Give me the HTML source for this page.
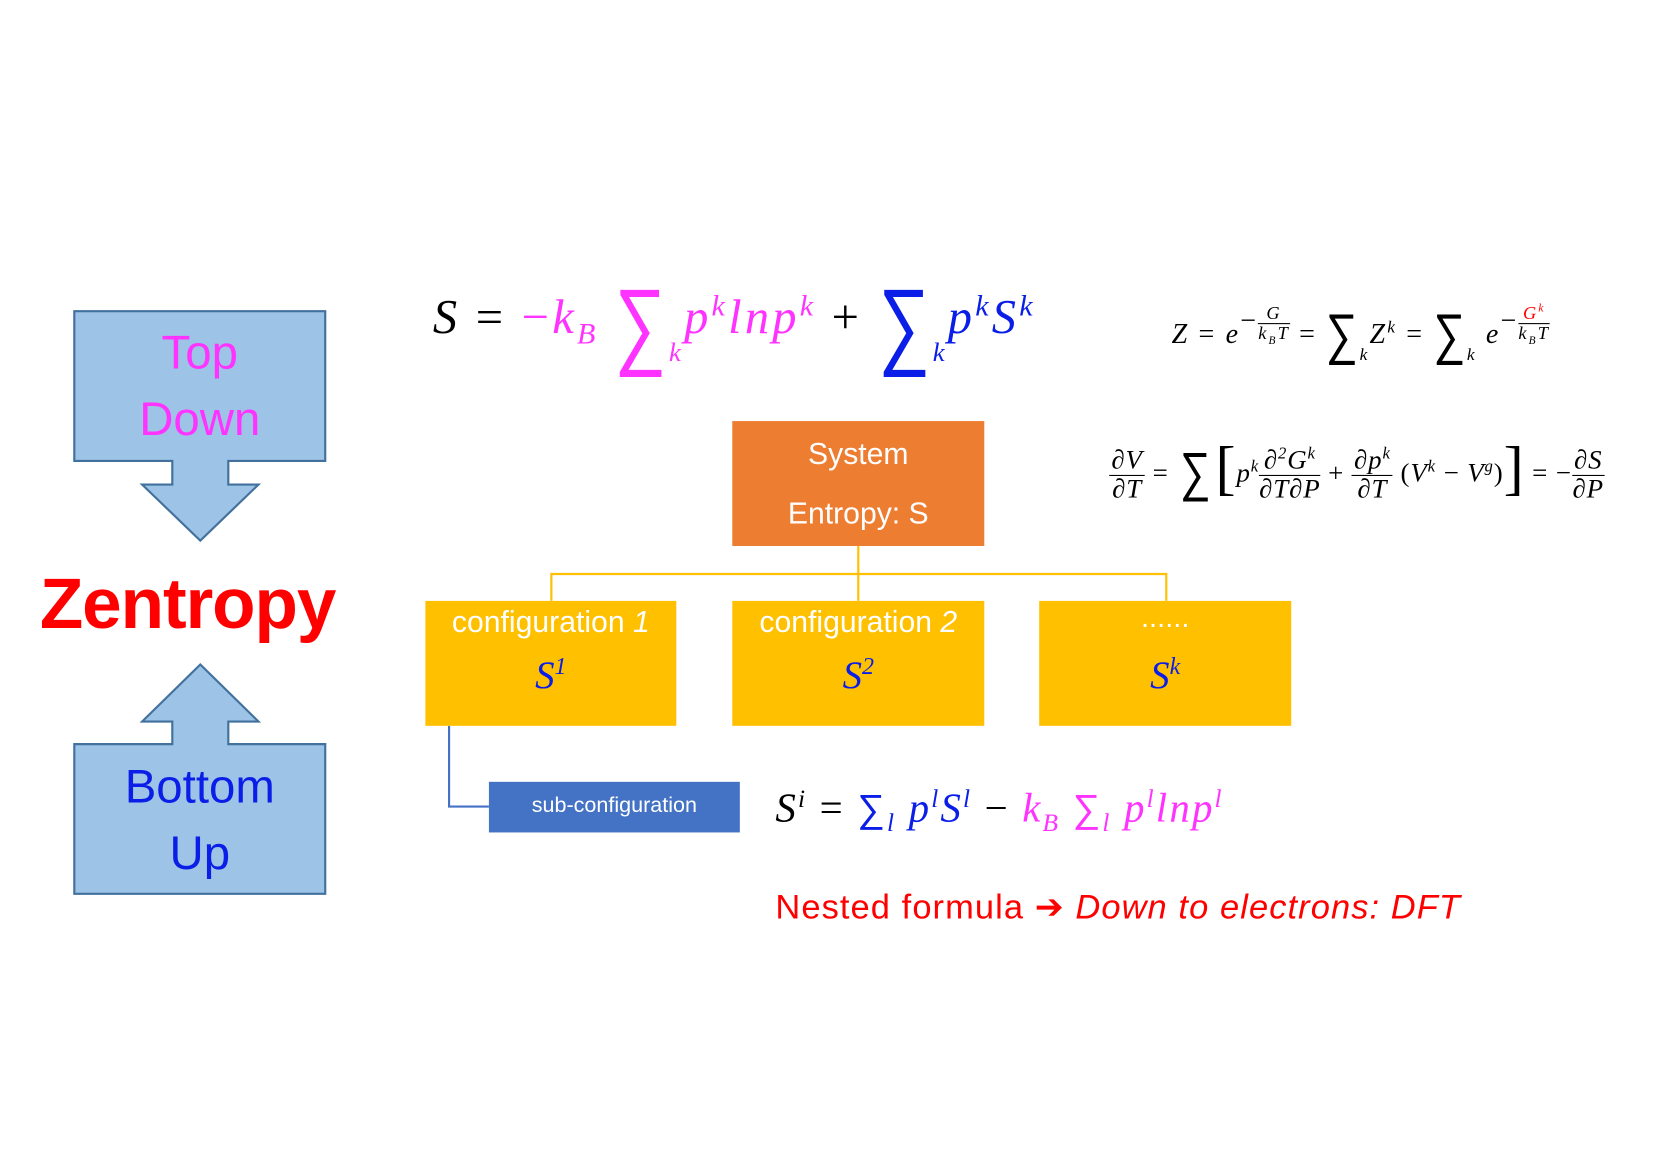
<!DOCTYPE html>
<html><head><meta charset="utf-8"><style>
html,body{margin:0;padding:0;background:#fff;width:1680px;height:1152px;overflow:hidden}
#w{position:absolute;left:0;top:0;width:1560px;height:1070px;transform:scale(1.0769);transform-origin:0 0}
.a{position:absolute;white-space:nowrap}
.s{font-family:"Liberation Sans",sans-serif}
.m{font-family:"Liberation Serif",serif;font-style:italic}
.box{position:absolute;box-sizing:border-box}
.c{text-align:center}
sup,sub{font-size:62%;line-height:0}
.sig{font-family:"DejaVu Sans",sans-serif;font-style:normal;font-weight:100;display:inline-block}
.fr{display:inline-block;vertical-align:middle;text-align:center;line-height:1.05}
.fr>span{display:block}
.fr>span:first-child{border-bottom:1.5px solid #000;padding:0 2px}
.pk{color:#ff33ff}.bl{color:#0a1ee8}
</style></head><body><div id="w">
<svg class="a" style="left:0;top:0" width="1560" height="1070">
 <path d="M69,289 H302 V428 H212 V450 H240 L186,502 L132,450 H160 V428 H69 Z" fill="#9dc3e6" stroke="#41719c" stroke-width="2"/>
 <path d="M69,830 H302 V691 H212 V670 H240 L186,617 L132,670 H160 V691 H69 Z" fill="#9dc3e6" stroke="#41719c" stroke-width="2"/>
 <g stroke="#ffc000" stroke-width="2" fill="none">
  <path d="M797,507 V558 M512,558 V533 H1083 V558"/>
 </g>
 <path d="M417,674 V749 H454" stroke="#4472c4" stroke-width="2" fill="none"/>
</svg>
<div class="a s c" style="left:69px;width:233px;top:297px;font-size:44px;line-height:62px;color:#ff33ff">Top<br>Down</div>
<div class="a s c" style="left:69px;width:233px;top:700px;font-size:44px;line-height:62px;color:#0a1ee8">Bottom<br>Up</div>
<div class="a s" style="left:37px;top:522px;font-size:66px;font-weight:bold;color:#ff0000;letter-spacing:-1px">Zentropy</div>

<div class="box" style="left:680px;top:391px;width:234px;height:116px;background:#ed7d31"></div>
<div class="a s c" style="left:680px;width:234px;top:394px;font-size:28px;line-height:55px;color:#fff">System<br>Entropy: S</div>

<div class="box" style="left:395px;top:558px;width:233px;height:116px;background:#ffc000"></div>
<div class="box" style="left:680px;top:558px;width:234px;height:116px;background:#ffc000"></div>
<div class="box" style="left:965px;top:558px;width:234px;height:116px;background:#ffc000"></div>
<div class="a s c" style="left:395px;width:233px;top:562px;font-size:28px;color:#fff">configuration <i>1</i></div>
<div class="a s c" style="left:680px;width:234px;top:562px;font-size:28px;color:#fff">configuration <i>2</i></div>
<div class="a s c" style="left:965px;width:234px;top:558px;font-size:27px;color:#fff">......</div>
<div class="a m c bl" style="left:395px;width:233px;top:606px;font-size:36px">S<sup>1</sup></div>
<div class="a m c bl" style="left:680px;width:234px;top:606px;font-size:36px">S<sup>2</sup></div>
<div class="a m c bl" style="left:965px;width:234px;top:606px;font-size:36px">S<sup>k</sup></div>

<div class="box" style="left:454px;top:726px;width:233px;height:47px;background:#4472c4"></div>
<div class="a s c" style="left:454px;width:233px;top:737px;font-size:20px;color:#fff">sub-configuration</div>

<!-- main formula -->
<div class="a m" style="left:402px;top:264px;font-size:45px;line-height:60px;letter-spacing:3px">
S <span style="font-style:normal">=</span> <span class="pk"><span style="font-style:normal">−</span>k<sub>B</sub> <span class="sig" style="font-size:90px;vertical-align:-22px;transform:scaleX(0.75);margin:0 -8px">∑</span><sub style="font-size:55%;vertical-align:-26px">k</sub>p<sup>k</sup>lnp<sup>k</sup></span> <span style="font-style:normal">+</span> <span class="bl"><span class="sig" style="font-size:90px;vertical-align:-22px;transform:scaleX(0.75);margin:0 -8px">∑</span><sub style="font-size:55%;vertical-align:-26px">k</sub>p<sup>k</sup>S<sup>k</sup></span>
</div>

<!-- Z formula -->
<div class="a m" style="left:1088px;top:282px;font-size:26px;line-height:40px;letter-spacing:2px">
Z <span style="font-style:normal">=</span> e<sup style="font-size:100%;vertical-align:12px"><span style="font-style:normal">−</span><span class="fr" style="font-size:17px"><span>G</span><span>k<sub>B</sub>T</span></span></sup> <span style="font-style:normal">=</span> <span class="sig" style="font-size:52px;vertical-align:-10px;transform:scaleX(0.8);margin:0 -4px">∑</span><sub style="vertical-align:-16px">k</sub>Z<sup>k</sup> <span style="font-style:normal">=</span> <span class="sig" style="font-size:52px;vertical-align:-10px;transform:scaleX(0.8);margin:0 -4px">∑</span><sub style="vertical-align:-16px">k</sub> e<sup style="font-size:100%;vertical-align:12px"><span style="font-style:normal">−</span><span class="fr" style="font-size:17px"><span style="color:#f00">G<sup>k</sup></span><span>k<sub>B</sub>T</span></span></sup>
</div>

<!-- dV/dT formula -->
<div class="a m" style="left:1030px;top:405px;font-size:25px;line-height:60px;letter-spacing:0.8px">
<span class="fr"><span>∂V</span><span style="border:0">∂T</span></span> <span style="font-style:normal">=</span> <span class="sig" style="font-size:50px;vertical-align:-8px;transform:scaleX(0.8)">∑</span><span style="font-style:normal;font-size:56px;font-weight:100;vertical-align:-6px">[</span>p<sup>k</sup><span class="fr"><span>∂<sup>2</sup>G<sup>k</sup></span><span style="border:0">∂T∂P</span></span> <span style="font-style:normal">+</span> <span class="fr"><span>∂p<sup>k</sup></span><span style="border:0">∂T</span></span> <span style="font-style:normal">(</span>V<sup>k</sup> <span style="font-style:normal">−</span> V<sup>g</sup><span style="font-style:normal">)</span><span style="font-style:normal;font-size:56px;font-weight:100;vertical-align:-6px">]</span> <span style="font-style:normal">=</span> <span style="font-style:normal">−</span><span class="fr"><span>∂S</span><span style="border:0">∂P</span></span>
</div>

<!-- S^i formula -->
<div class="a m" style="left:720px;top:726px;font-size:38px;line-height:50px;letter-spacing:2px">
S<sup>i</sup> <span style="font-style:normal">=</span> <span class="bl"><span class="sig" style="font-size:36px">∑</span><sub>l</sub> p<sup>l</sup>S<sup>l</sup></span> <span style="font-style:normal">−</span> <span class="pk">k<sub>B</sub> <span class="sig" style="font-size:36px">∑</span><sub>l</sub> p<sup>l</sup>lnp<sup>l</sup></span>
</div>

<div class="a s" style="left:720px;top:823px;font-size:32px;color:#ff0000;letter-spacing:1px">Nested formula <span style="font-family:'DejaVu Sans',sans-serif;font-weight:bold">➔</span> <i>Down to electrons: DFT</i></div>
</div></body></html>
